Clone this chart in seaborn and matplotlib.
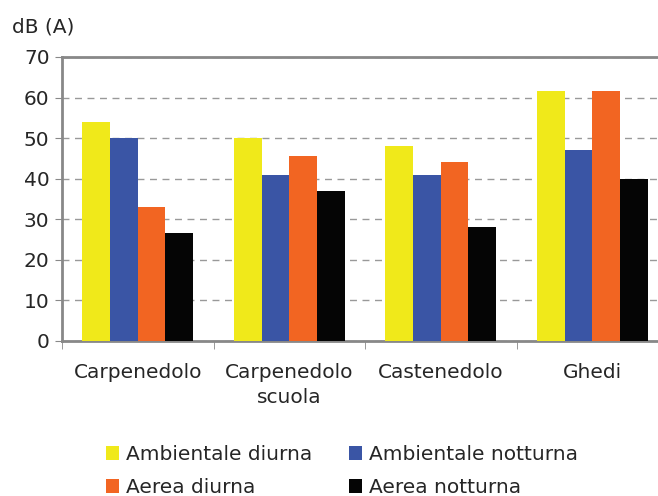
import numpy as np
import pandas as pd
import matplotlib
matplotlib.use("Agg")
import matplotlib.pyplot as plt
import seaborn as sns

# data
sites = ["Carpenedolo", "Carpenedolo\nscuola", "Castenedolo", "Ghedi"]
series = ["Ambientale diurna", "Ambientale notturna", "Aerea diurna", "Aerea notturna"]
amb_diurna = [54, 50, 48, 61.5]
amb_notturna = [50, 41, 41, 47]
aerea_diurna = [33, 45.5, 44, 61.5]
aerea_notturna = [26.5, 37, 28, 40]
colors = ["#F0E91A", "#3A55A5", "#F26522", "#050505"]

rows = []
for name, vals in zip(series, [amb_diurna, amb_notturna, aerea_diurna, aerea_notturna]):
    for s, v in zip(sites, vals):
        rows.append({"site": s, "serie": name, "dB": v})
df = pd.DataFrame(rows)

sns.set_style("white")
plt.rcParams['font.family'] = ['DejaVu Sans']

fig = plt.figure(figsize=(6.58, 4.96), dpi=100)
ax = fig.add_axes([62/658, 1-341/496, 606/658, 284/496])

sns.barplot(data=df, x="site", y="dB", hue="serie", palette=colors,
            width=0.73, saturation=1, ax=ax, legend=True, linewidth=0, zorder=3)

ax.set_ylim(0, 70)
ax.set_xlim(-0.5, 3.5)
ax.set_yticks(range(0, 71, 10))
ax.set_xlabel("")
ax.set_ylabel("")
ax.yaxis.grid(True, linestyle=(0, (5, 4)), color="#999999", linewidth=1, zorder=0)
ax.set_axisbelow(True)

for sp in ax.spines.values():
    sp.set_color("#888888")
    sp.set_linewidth(2)

ax.tick_params(axis="y", left=True, length=5, color="#888888", labelsize=14.5, pad=4)
ax.tick_params(axis="x", bottom=False, labelsize=14.5, pad=12)
for t in ax.get_xticklabels():
    t.set_linespacing(1.45)
ax.set_xticks(np.arange(-0.5, 4, 1), minor=True)
ax.tick_params(axis="x", which="minor", bottom=True, length=6, color="#888888")

fig.text(12/658, 1-27/496, "dB (A)", fontsize=14.5, va="center", ha="left")

handles, labels = ax.get_legend_handles_labels()
ax.get_legend().remove()
order = [0, 2, 1, 3]
fig.legend([handles[i] for i in order], [labels[i] for i in order], ncol=2,
           frameon=False, loc="center", bbox_to_anchor=(342/658, 1-471/496),
           fontsize=14.5, handlelength=0.65, handleheight=0.65, handletextpad=0.35,
           columnspacing=1.8, labelspacing=0.7)

fig.savefig("out.png", dpi=100)
